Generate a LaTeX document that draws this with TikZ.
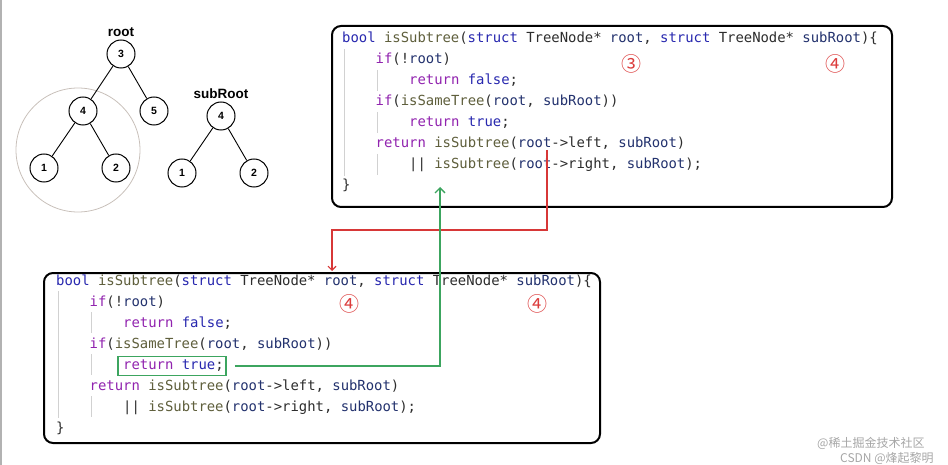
\documentclass[tikz,border=0pt]{standalone}
\usepackage{fontspec}
\setsansfont{Liberation Sans}
\setmonofont{DejaVu Sans Mono}
\newfontfamily\cjk{Noto Sans CJK SC}
\usepackage{xcolor}
\usetikzlibrary{arrows.meta, positioning}

\definecolor{kwblue}{RGB}{40,40,175}
\definecolor{ctlpurple}{RGB}{145,35,175}
\definecolor{fnolive}{RGB}{95,95,60}
\definecolor{prmnavy}{RGB}{35,50,110}
\definecolor{codegray}{RGB}{45,45,45}
\definecolor{callred}{RGB}{215,55,55}
\definecolor{retgreen}{RGB}{60,165,95}
\definecolor{markred}{RGB}{220,60,60}
\definecolor{ringgray}{RGB}{200,192,186}

\newcommand\kw[1]{\textcolor{kwblue}{#1}}
\newcommand\ctl[1]{\textcolor{ctlpurple}{#1}}
\newcommand\fnc[1]{\textcolor{fnolive}{#1}}
\newcommand\prm[1]{\textcolor{prmnavy}{#1}}

% one copy of the function, first baseline at (#2,#3)
\newcommand\codelines[3]{%
  \draw[guide] (#2+2,#3+6) -- (#2+2,#3+133);
  \foreach \k in {2,4,6}
    \draw[guide] (#2+35.5,#3+\k*21-15) -- (#2+35.5,#3+\k*21+6);
  \foreach \ind/\txt [count=\i] in {%
    0/{\kw{bool} \fnc{isSubtree}(\kw{struct} TreeNode* \prm{root}, \kw{struct} TreeNode* \prm{subRoot})\{},
    1/{\ctl{if}(!\prm{root})},
    2/{\ctl{return} \kw{false};},
    1/{\ctl{if}(\fnc{isSameTree}(\prm{root}, \prm{subRoot}))},
    2/{\ctl{return} \kw{true};},
    1/{\ctl{return} \fnc{isSubtree}(\prm{root}->left, \prm{subRoot})},
    2/{|| \fnc{isSubtree}(\prm{root}->right, \prm{subRoot});},
    0/{\}}%
  }{\node[codeline] (#1\i) at ({#2+\ind*33.5},{#3+(\i-1)*21}) {\txt};}%
}

\begin{document}
\begin{tikzpicture}[
  x=1pt, y=-1pt,
  tnode/.style={circle, draw=black, line width=1pt, fill=white, minimum size=28pt, inner sep=0pt, font=\sffamily\bfseries\fontsize{10.5}{11}\selectfont},
  tlabel/.style={font=\sffamily\bfseries\fontsize{13.5}{14}\selectfont, inner sep=1pt},
  edge/.style={draw=black, line width=0.9pt},
  codebox/.style={draw=black, line width=2pt, rounded corners=9pt, fill=white},
  codeline/.style={anchor=base west, inner sep=0pt, text=codegray, font=\ttfamily\fontsize{13.9}{16}\selectfont},
  guide/.style={draw=black!18, line width=0.6pt},
  stepmark/.style={text=markred, font=\cjk\fontsize{20}{21}\selectfont, inner sep=0pt},
  retbox/.style={draw=retgreen, line width=1.5pt, minimum width=108pt, minimum height=19pt, inner sep=0pt},
  callarrow/.style={draw=callred, line width=1.1pt, -{Straight Barb[length=4pt, width=8pt]}},
  retarrow/.style={draw=retgreen, line width=1.3pt, -{Straight Barb[length=5pt, width=10pt]}},
  wmark/.style={text=black!35, font=\cjk\fontsize{12}{13}\selectfont, inner sep=0pt}
]
  \useasboundingbox (0,0) rectangle (948,465);
  \draw[black!30, line width=1.5pt] (1,0) -- (1,465);

  % trees
  \node[circle, draw=ringgray, line width=0.8pt, minimum size=124pt] (ring) at (78,150) {};
  \node[tnode] (r3) at (121,54) {3};
  \node[tnode] (r4) at (83,111) {4};
  \node[tnode] (r5) at (154,111) {5};
  \node[tnode] (r1) at (44,168) {1};
  \node[tnode] (r2) at (116,168) {2};
  \node[tlabel, above=2pt of r3] (rootlbl) {root};
  \draw[edge] (r3) -- (r4);
  \draw[edge] (r3) -- (r5);
  \draw[edge] (r4) -- (r1);
  \draw[edge] (r4) -- (r2);

  \node[tnode] (s4) at (221,116) {4};
  \node[tnode] (s1) at (182,173) {1};
  \node[tnode] (s2) at (254,173) {2};
  \node[tlabel, above=2pt of s4] (sublbl) {subRoot};
  \draw[edge] (s4) -- (s1);
  \draw[edge] (s4) -- (s2);

  % code, call on node 3 (top) and on node 4 (bottom)
  \node[codebox, minimum width=560pt, minimum height=181pt] (topbox) at (612,116.5) {};
  \codelines{t}{342}{43}
  \node[stepmark] (t3) at (631,64) {③};
  \node[stepmark] (t4) at (835,64) {④};

  \node[codebox, minimum width=556pt, minimum height=170pt] (botbox) at (322,358) {};
  \codelines{b}{56}{285}
  \node[stepmark] (b4a) at (349,304) {④};
  \node[stepmark] (b4b) at (537,304) {④};
  \node[retbox] (rettrue) at (172,366) {};

  \coordinate (callfrom) at (547,150);
  \coordinate (callto) at (332,271);
  \draw[callarrow] (callfrom) -- ++(0,80) -| (callto);
  \coordinate (retto) at (440,187);
  \draw[retarrow] ([xshift=8pt]rettrue.east) -| (retto);

  \node[wmark, anchor=west] (wm1) at (817,443) {@稀土掘金技术社区};
  \node[wmark, anchor=west] (wm2) at (840,458) {CSDN @烽起黎明};
\end{tikzpicture}
\end{document}
